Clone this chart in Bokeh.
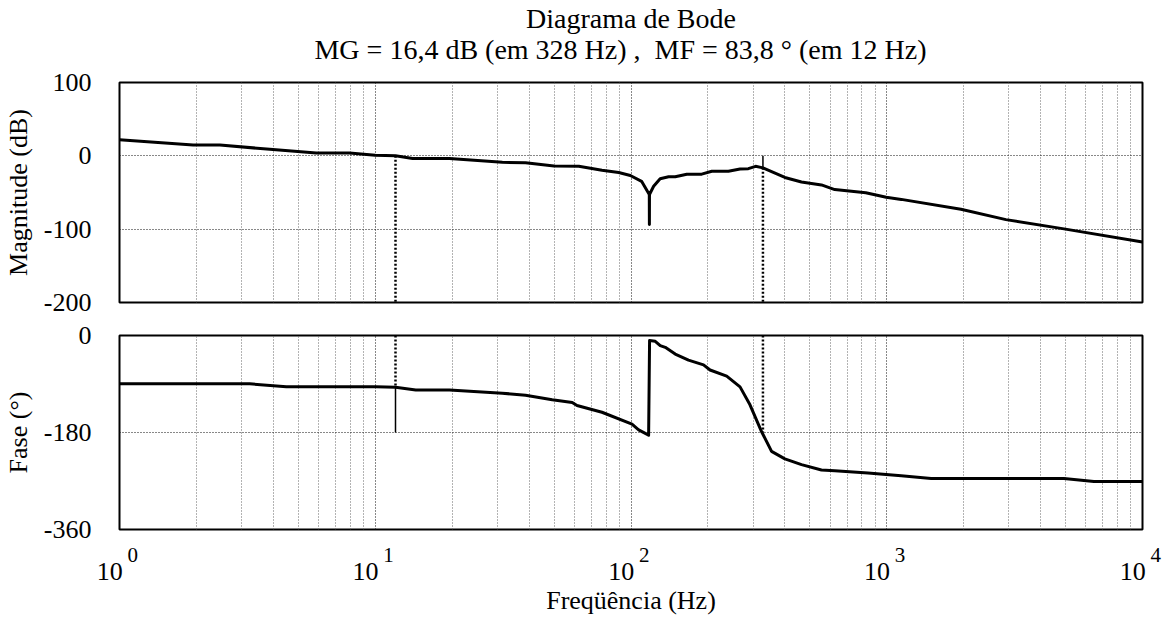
from bokeh.plotting import figure
from bokeh.layouts import column
from bokeh.models import Range1d, FixedTicker, Title, LogAxis
from bokeh.embed import file_html
from bokeh.resources import INLINE

FONT = "Liberation Serif"

title_line1 = "Diagrama de Bode"
title_line2 = "MG = 16,4 dB (em 328 Hz) ,\u00a0\u00a0MF = 83,8 \u00b0 (em 12 Hz)\u00a0\u00a0\u00a0"
mag_label = "Magnitude (dB)"
phase_label = "Fase (\u00b0)"
freq_label = "Freq\u00fc\u00eancia (Hz)"

# magnitude curve (Hz, dB)
mag_freq = [1, 1.94, 2.47, 3.87, 5.88, 7.93, 10, 12, 14, 19.5, 31.4, 38.7, 50, 62.5,
            77, 89.5, 99.4, 110, 117.9, 118, 118.1, 122.6, 130, 140.3, 148.9, 165.3,
            189, 207, 240.4, 266.9, 287.6, 307, 328, 399.6, 464, 555.6, 626, 828,
            995, 1140, 1950, 2924, 4932, 10000]
mag_db = [21.9, 14.7, 14.7, 8.9, 4.0, 4.0, 0.9, 0.0, -3.6, -3.6, -8.9, -9.4, -13.8, -14.3,
          -19.6, -22.8, -26.8, -34.8, -52.7, -93.8, -52.7, -41.5, -31.3, -28.6, -28.6, -25.0,
          -25.0, -21.0, -21.0, -17.9, -17.5, -14.3, -16.4, -29.5, -35.7, -39.7, -46.0, -50.3,
          -56.5, -59.4, -72.8, -87.0, -99.6, -117.4]

# phase curve (Hz, degrees)
phase_freq = [1, 3.23, 4.49, 10.05, 12, 14.4, 19.5, 31.4, 38.7, 49.2, 58.9, 61.5, 77,
              100.9, 107.1, 117.2, 118.2, 124.4, 130.1, 136.1, 148.9, 167.8, 192.1,
              203.8, 236.7, 266.9, 291.9, 324.2, 354.5, 399.6, 464.2, 555.4, 626,
              844.6, 1139, 1492, 4932, 6457, 10000]
phase_deg = [-89.7, -89.7, -95.3, -95.3, -96.2, -101.0, -101.0, -107.0, -111.0, -119.2,
             -124.2, -129.8, -142.4, -164.3, -175.0, -185.0, -9.4, -10.7, -18.8, -22.0,
             -34.5, -45.8, -54.6, -64.0, -75.3, -95.3, -128.6, -178.7, -215.1, -228.9,
             -239.6, -249.6, -250.9, -255.3, -260.3, -265.3, -265.3, -271.0, -271.0]

# margins
gm_freq, gm_db = 328, 16.4
pm_freq, pm_deg = 12, 83.8

mag_ticks = [-200, -100, 0, 100]
phase_ticks = [-360, -180, 0]
decades = [0, 1, 2, 3, 4]
minor_freqs = [k * 10 ** d for d in decades[:-1] for k in range(2, 10)]
major_freqs = [10 ** d for d in decades]

W = 1168


def style(p, yticks, ylabel):
    p.background_fill_color = "white"
    p.border_fill_color = "white"
    p.outline_line_color = "black"
    p.outline_line_width = 2
    p.outline_line_alpha = 1
    p.xgrid.ticker = FixedTicker(ticks=major_freqs, minor_ticks=minor_freqs)
    p.xgrid.grid_line_color = "#111111"
    p.xgrid.grid_line_dash = "1 2"
    p.xgrid.grid_line_width = 1
    p.xgrid.minor_grid_line_color = "#666666"
    p.xgrid.minor_grid_line_dash = "1 2"
    p.xgrid.minor_grid_line_width = 1
    p.yaxis.ticker = FixedTicker(ticks=yticks)
    p.ygrid.ticker = FixedTicker(ticks=yticks)
    p.ygrid.grid_line_color = "#111111"
    p.ygrid.grid_line_dash = "1 2"
    p.ygrid.grid_line_width = 1
    ax = p.yaxis[0]
    ax.axis_line_color = None
    ax.major_tick_line_color = None
    ax.minor_tick_line_color = None
    ax.major_label_standoff = 22
    ax.major_label_overrides = {t: str(t) for t in yticks}
    ax.major_label_text_font = FONT
    ax.major_label_text_font_size = "26px"
    ax.major_label_text_color = "black"
    ax.axis_label = ylabel
    ax.axis_label_text_font = FONT
    ax.axis_label_text_font_size = "26px"
    ax.axis_label_text_font_style = "normal"
    ax.axis_label_text_color = "black"
    ax.axis_label_standoff = 8


p1 = figure(width=W, height=318, x_axis_type="log",
            x_range=Range1d(major_freqs[0], major_freqs[-1]),
            y_range=Range1d(mag_ticks[0], mag_ticks[-1]),
            output_backend="svg", toolbar_location=None,
            min_border_left=116, min_border_right=26,
            min_border_top=82, min_border_bottom=16)
style(p1, mag_ticks, mag_label)
p1.xaxis.visible = False

title_kw = dict(align="center", text_font=FONT, text_font_size="28px",
                text_font_style="normal", text_color="black")
spacer = Title(text="\u00a0", standoff=-18, **title_kw)
t2 = Title(text=title_line2, standoff=6, **title_kw)
t1 = Title(text=title_line1, standoff=-10, **title_kw)
p1.add_layout(spacer, "above")
p1.add_layout(t2, "above")
p1.add_layout(t1, "above")

# margin markers (magnitude)
p1.line([pm_freq, pm_freq], [0, mag_ticks[0]], line_color="black", line_width=2.5, line_dash="2 2")
p1.line([gm_freq, gm_freq], [-gm_db, mag_ticks[0]], line_color="black", line_width=2.5, line_dash="2 2")
p1.line([gm_freq, gm_freq], [0, -gm_db], line_color="black", line_width=1.5)
p1.line(mag_freq, mag_db, line_color="black", line_width=3, line_join="round")

p2 = figure(width=W, height=299, x_axis_type="log", x_range=p1.x_range,
            y_range=Range1d(phase_ticks[0], phase_ticks[-1]),
            output_backend="svg", toolbar_location=None,
            min_border_left=116, min_border_right=26,
            min_border_top=17, min_border_bottom=88)
style(p2, phase_ticks, phase_label)

pm_phase = -180 + pm_deg
p2.line([pm_freq, pm_freq], [0, pm_phase], line_color="black", line_width=2.5, line_dash="2 2")
p2.line([pm_freq, pm_freq], [pm_phase, -180], line_color="black", line_width=1.5)
p2.line([gm_freq, gm_freq], [0, -180], line_color="black", line_width=2.5, line_dash="2 2")
p2.line(phase_freq, phase_deg, line_color="black", line_width=3, line_join="round")

# x tick labels: exponents (closest axis), then "10" with the axis title
exp_ax = p2.xaxis[0]
exp_ax.ticker = FixedTicker(ticks=major_freqs)
exp_ax.major_label_overrides = {10 ** d: "\u00a0" * 5 + str(d) for d in decades}
exp_ax.axis_line_color = None
exp_ax.major_tick_line_color = None
exp_ax.minor_tick_line_color = None
exp_ax.major_label_text_font = FONT
exp_ax.major_label_text_font_size = "21px"
exp_ax.major_label_text_color = "black"
exp_ax.major_label_standoff = 7

ten_ax = LogAxis(ticker=FixedTicker(ticks=major_freqs),
                 major_label_overrides={10 ** d: "10" + "\u00a0" * 3 for d in decades},
                 axis_line_color=None, major_tick_line_color=None, minor_tick_line_color=None,
                 major_label_text_font=FONT, major_label_text_font_size="26px",
                 major_label_text_color="black", major_label_standoff=-19,
                 axis_label=freq_label, axis_label_text_font=FONT,
                 axis_label_text_font_size="26px", axis_label_text_font_style="normal",
                 axis_label_text_color="black", axis_label_standoff=-3)
p2.add_layout(ten_ax, "below")

layout = column(p1, p2, spacing=0)
open("out.html", "w").write(file_html(layout, INLINE))
